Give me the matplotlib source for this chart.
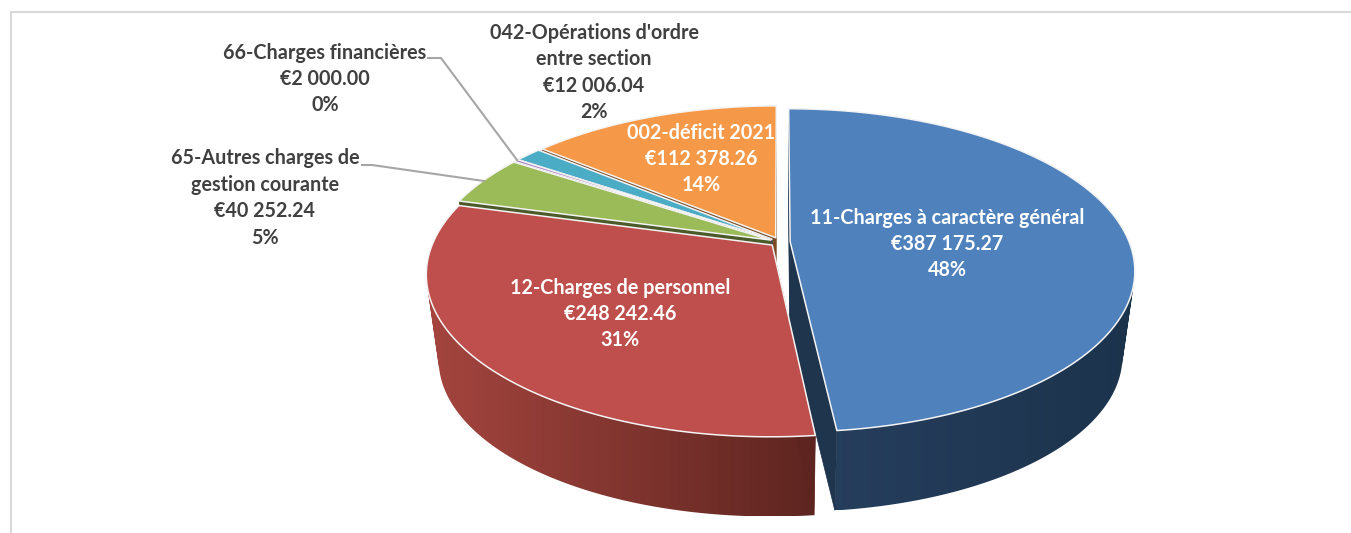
import numpy as np
import matplotlib
matplotlib.use("Agg")
import matplotlib.pyplot as plt
from matplotlib.patches import Polygon, PathPatch
from matplotlib.path import Path
from matplotlib.colors import to_rgb

plt.rcParams['font.family'] = ['Lato', 'DejaVu Sans']

# ---- data (clockwise from 12 o'clock) ----
categories = ["11-Charges à caractère général", "12-Charges de personnel",
              "65-Autres charges de gestion courante", "66-Charges financières",
              "042-Opérations d'ordre entre section", "002-déficit 2021"]
values = [387175.27, 248242.46, 40252.24, 2000.00, 12006.04, 112378.26]
value_labels = ["€387 175.27", "€248 242.46", "€40 252.24", "€2 000.00", "€12 006.04", "€112 378.26"]
pct_labels = ["48%", "31%", "5%", "0%", "2%", "14%"]
top_colors = ["#4F81BD", "#BE4F4C", "#9BBB59", "#A070C0", "#4BACC6", "#F59848"]
face_colors = ["#1F344D", "#5E2520", "#4A5A28", "#5A3F78", "#2A6A80", "#7A4A24"]
wall_left = ["#27405F", "#A5453F", "#7A9440", "#6A4F88", "#38889E", "#C8753A"]
wall_right = ["#1C334C", "#5E2520", "#5A6E30", "#4A3768", "#2A6A80", "#9A5A2A"]

# ---- projection of the tilted pie ----
CX, CY, A, B, K = 780.0, 242.0, 339.0, 156.6, 0.177
EXPLODE, DEPTH_SCALE, DEPTH_Y = 0.03, 0.965, 86.5


def project(u, v, low=False):
    s = 1.0 / (1.0 + K * v)
    x, y = A * u * s, -B * v * s
    if low:
        return CX + DEPTH_SCALE * x, CY + DEPTH_Y + DEPTH_SCALE * y
    return CX + x, CY + y


fig = plt.figure(figsize=(13.51, 5.33), dpi=100)
ax = fig.add_axes([0, 0, 1, 1])
ax.axis("off")

# frame of the chart area
ax.plot([11, 11, 1351], [533, 12, 12], color="#D9D9D9", lw=1.5, solid_joinstyle="miter", zorder=0)

fractions = np.array(values) / np.sum(values)
edges = np.concatenate([[0], np.cumsum(fractions)]) * 2 * np.pi
z = [1]


def nextz():
    z[0] += 1
    return z[0]


def draw_slice(i):
    a0, a1 = edges[i], edges[i + 1]
    mid = 0.5 * (a0 + a1)
    du, dv = EXPLODE * np.sin(mid), EXPLODE * np.cos(mid)
    t = np.linspace(a0, a1, max(6, int((a1 - a0) * 90)))
    u, v = np.sin(t) + du, np.cos(t) + dv
    tx, ty = project(u, v)
    bx, by = project(u, v, low=True)

    # outer wall: horizontal gradient clipped to the union of its strips
    quads = []
    for j in range(len(t) - 1):
        q = np.array([(tx[j], ty[j]), (tx[j + 1], ty[j + 1]),
                      (bx[j + 1], by[j + 1]), (bx[j], by[j])])
        xs, ys = q[:, 0], q[:, 1]
        area = np.sum(xs * np.roll(ys, -1) - np.roll(xs, -1) * ys)
        if area < 0:
            q = q[::-1]
        quads.append(Path(np.vstack([q, q[0]]), closed=True))
    wall = PathPatch(Path.make_compound_path(*quads), facecolor="none", edgecolor="none",
                     transform=ax.transData)
    ax.add_patch(wall)
    c0, c1 = np.array(to_rgb(wall_left[i])), np.array(to_rgb(wall_right[i]))
    ramp = c0 + (c1 - c0) * np.linspace(0, 1, 256)[:, None]
    x0, x1 = min(tx.min(), bx.min()), max(tx.max(), bx.max())
    y0, y1 = min(ty.min(), by.min()), max(ty.max(), by.max())
    im = ax.imshow(ramp[None, :, :], extent=(x0, x1, y1, y0), aspect="auto",
                   interpolation="bilinear", zorder=nextz())
    im.set_clip_path(wall)

    # cut faces
    for a in (a0, a1):
        pu, pv = np.sin(a) + du, np.cos(a) + dv
        q = [project(du, dv), project(pu, pv), project(pu, pv, True), project(du, dv, True)]
        ax.add_patch(Polygon(q, closed=True, facecolor=face_colors[i],
                             edgecolor=face_colors[i], lw=0.5, zorder=nextz()))
    # top
    ax0, ay0 = project(du, dv)
    ax.add_patch(Polygon(np.column_stack([np.r_[ax0, tx], np.r_[ay0, ty]]), closed=True,
                         facecolor=top_colors[i], edgecolor="#F4F4F4", lw=1.1,
                         joinstyle="round", zorder=nextz()))


for i in [5, 4, 3, 2, 0, 1]:
    draw_slice(i)

ax.set_xlim(0, 1351)
ax.set_ylim(533, 0)

# leader lines
LEADER = "#A6A6A6"
ax.plot([428, 441, 517], [58, 58, 160], color=LEADER, lw=1.5, zorder=nextz())
ax.plot([362, 372, 484], [165, 165, 181], color=LEADER, lw=1.5, zorder=nextz())

# labels: (slice, wrapped name, centre x, centre y, colour)
DARK, WHITE = "#404040", "#FFFFFF"
placements = [
    (0, categories[0], 947, 244, WHITE),
    (1, categories[1], 620, 314, WHITE),
    (2, "65-Autres charges de\ngestion courante", 265, 198, DARK),
    (3, categories[3], 325, 79, DARK),
    (4, "042-Opérations d'ordre\nentre section", 594, 72.5, DARK),
    (5, categories[5], 701, 159, WHITE),
]
for i, name, x, y, col in placements:
    ax.text(x, y, f"{name}\n{value_labels[i]}\n{pct_labels[i]}", ha="center", va="center",
            multialignment="center", color=col, fontsize=14.25, fontweight="bold",
            linespacing=1.4, zorder=nextz())

fig.savefig("out.png", dpi=100)
